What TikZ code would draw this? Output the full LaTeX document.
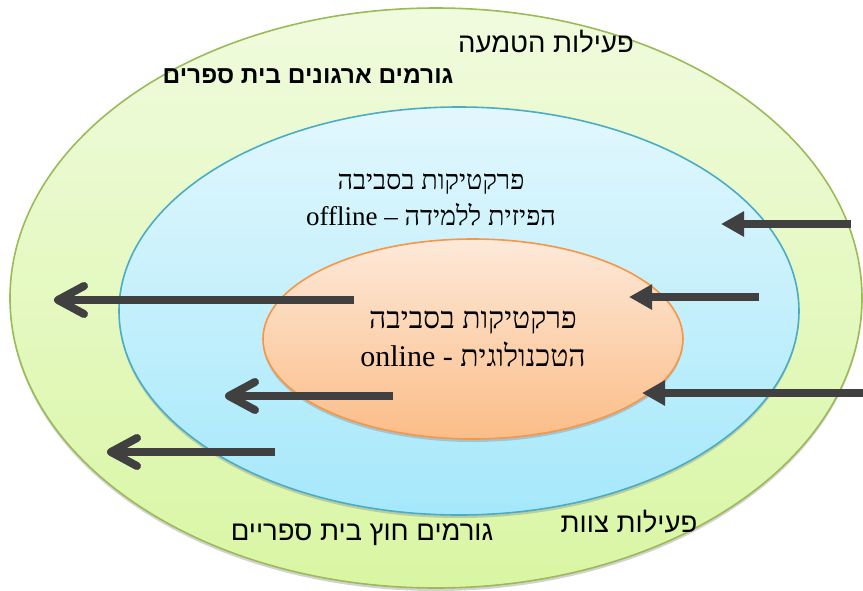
\documentclass[tikz,border=0pt]{standalone}
\usepackage{fontspec}
\setmainfont{Liberation Serif}
\newfontfamily\hebserif[Script=Hebrew]{Liberation Serif}
\newfontfamily\hebsans[Script=Hebrew]{Liberation Sans}
\TeXXeTstate=1
\usetikzlibrary{shapes.geometric,arrows.meta,shadows}
\definecolor{outerT}{HTML}{F0FBDE}
\definecolor{outerB}{HTML}{D9F6A3}
\definecolor{outerL}{HTML}{9BBB59}
\definecolor{midT}{HTML}{E2F7FD}
\definecolor{midB}{HTML}{A5E8FB}
\definecolor{midL}{HTML}{4BACC6}
\definecolor{innT}{HTML}{FDE9D9}
\definecolor{innB}{HTML}{FBBD88}
\definecolor{innL}{HTML}{F79646}
\definecolor{arrowc}{HTML}{404040}
\tikzset{
  ring/.style={ellipse, inner sep=0pt, outer sep=0pt, line width=1.6pt,
    drop shadow={shadow xshift=0pt, shadow yshift=-3pt, opacity=.35}},
  openarr/.style={draw=arrowc, line width=8pt, -{Straight Barb[length=26pt,width=28pt,round]}},
  solidarr/.style={draw=arrowc, line width=8pt, -{Triangle[length=23pt,width=24pt]}},
  sanslbl/.style={font=\hebsans\fontsize{27.5}{32}\selectfont, inner sep=0pt},
  boldlbl/.style={font=\hebsans\bfseries\fontsize{24.5}{28}\selectfont, inner sep=0pt},
  seriflbl/.style={font=\hebserif\fontsize{27}{36}\selectfont, align=center, inner sep=0pt},
}
\begin{document}
\begin{tikzpicture}[x=1pt,y=-1pt]
\useasboundingbox (0,0) rectangle (863,590);
\fill[white] (0,0) rectangle (863,590);
% ellipses
\node[ring, draw=outerL, top color=outerT, bottom color=outerB,
      minimum width=852pt, minimum height=580pt] (outer) at (436,298) {};
\node[ring, draw=midL, top color=midT, bottom color=midB,
      minimum width=680pt, minimum height=408pt] (middle) at (459,311) {};
\node[ring, draw=innL, top color=innT, bottom color=innB,
      minimum width=420pt, minimum height=200pt,
      font=\hebserif\fontsize{30}{38}\selectfont, align=center] (inner) at (473,339)
      {\beginR פרקטיקות בסביבה\endR\\\beginR הטכנולוגית - \beginL online\endL\endR};
% labels
\node[sanslbl] (t1) at (546,42) {\beginR פעילות הטמעה\endR};
\node[boldlbl] (t2) at (308,76) {\beginR גורמים ארגונים בית ספרים\endR};
\node[seriflbl] (t3) at (431,200) {\beginR פרקטיקות בסביבה\endR\\\beginR הפיזית ללמידה – \beginL offline\endL\endR};
\node[sanslbl] (t4) at (629,522) {\beginR פעילות צוות\endR};
\node[sanslbl] (t5) at (362,535) {\beginR גורמים חוץ בית ספריים\endR};
% arrow ends
\coordinate (a1s) at (851,224); \coordinate (a1e) at (721,224);
\coordinate (a2s) at (759,297); \coordinate (a2e) at (629,297);
\coordinate (a3s) at (863,393); \coordinate (a3e) at (642,393);
\coordinate (b1s) at (354,300); \coordinate (b1e) at (54,300);
\coordinate (b2s) at (393,396); \coordinate (b2e) at (225,396);
\coordinate (b3s) at (275,452); \coordinate (b3e) at (107,452);
\draw[solidarr] (a1s) -- (a1e);
\draw[solidarr] (a2s) -- (a2e);
\draw[solidarr] (a3s) -- (a3e);
\draw[openarr] (b1s) -- (b1e);
\draw[openarr] (b2s) -- (b2e);
\draw[openarr] (b3s) -- (b3e);
\end{tikzpicture}
\end{document}
